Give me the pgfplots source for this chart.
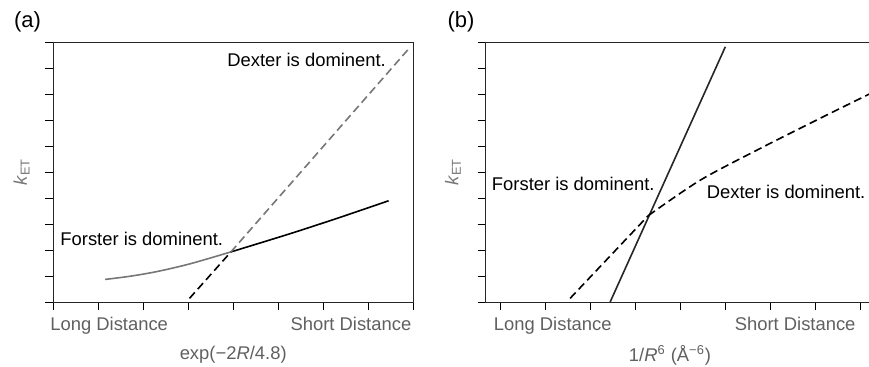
\documentclass[border=0pt]{standalone}
\usepackage{fontspec}
\setmainfont{Liberation Sans}
\usepackage{pgfplots}
\pgfplotsset{compat=1.18}
\definecolor{lgray}{HTML}{777777}
\definecolor{tgray}{HTML}{606060}
\begin{document}
\begin{tikzpicture}[font=\fontsize{9.2}{11}\selectfont]
\useasboundingbox (0,0) rectangle (434.5pt,183pt);
\clip (0,0) rectangle (434.5pt,183pt);
\pgfplotsset{myax/.style={scale only axis, height=129.8pt, anchor=south west,
  ymin=0, ymax=10, ytick={0,...,10}, yticklabels={}, xticklabels={},
  tick pos=left, tick align=outside, major tick length=4pt,
  axis line style={black!85, line width=0.5pt},
  every tick/.style={black, line width=0.5pt}, clip=false,
  every node/.append style={font=\fontsize{9.2}{11}\selectfont}}}
% ---------- (a) ----------
\begin{axis}[myax, at={(26.5pt,32pt)}, width=180.2pt, xmin=0, xmax=8, xtick={0,...,8}]
\addplot[lgray, line width=0.8pt, smooth] coordinates {(1.155,0.87) (1.7,0.99) (2.3,1.17) (3.04,1.47) (3.95,1.93)};
\addplot[black, line width=0.8pt, smooth] coordinates {(3.95,1.93) (5.26,2.63) (6.37,3.26) (7.45,3.90)};
\addplot[black, line width=0.8pt, dash pattern=on 4pt off 2.2pt] coordinates {(3.03,0.14) (3.95,1.93)};
\addplot[lgray, line width=0.8pt, dash pattern=on 4pt off 2.2pt] coordinates {(3.95,1.93) (7.93,9.82)};
\node[anchor=base] at (axis cs:5.63,9.09) {Dexter is dominent.};
\node[anchor=base] at (axis cs:1.97,2.17) {Forster is dominent.};
\node[anchor=base west, text=tgray] at (axis cs:-0.215,-1.10) {Long Distance};
\node[anchor=base east, text=tgray] at (axis cs:8.11,-1.10) {Short Distance};
\node[anchor=base, text=tgray] at (axis cs:4.0,-2.23) {exp(−2\textit{R}/4.8)};
\end{axis}
% ---------- (b) ----------
\begin{axis}[myax, at={(242.85pt,32pt)}, width=196.3pt, xmin=-0.326, xmax=8.4, xtick={0,...,8}]
\addplot[black!85, line width=0.8pt] coordinates {(2.44,0) (5.0,9.83)};
\addplot[black, line width=0.8pt, dash pattern=on 4pt off 2.2pt] coordinates {(1.55,0.14) (3.29,3.33)};
\addplot[black, line width=0.8pt, smooth, dash pattern=on 4pt off 2.2pt] coordinates {(3.29,3.33) (4.44,4.69) (5.77,5.91) (7.10,7.07) (8.07,7.90) (8.4,8.18)};
\node[anchor=base] at (axis cs:1.62,4.31) {Forster is dominent.};
\node[anchor=base west, inner sep=0pt] at (axis cs:4.58,4.0) {Dexter is dominent.};
\node[anchor=base west, text=tgray] at (axis cs:-0.30,-1.10) {Long Distance};
\node[anchor=base east, text=tgray] at (axis cs:8.05,-1.10) {Short Distance};
\node[anchor=base, text=tgray] at (axis cs:3.77,-2.3) {1/\textit{R}\textsuperscript{6} (Å\textsuperscript{−6})};
\end{axis}
\node[rotate=90, text=lgray] at (10.8pt,97pt) {\textit{k}\textsubscript{ET}};
\node[rotate=90, text=lgray] at (226.5pt,97pt) {\textit{k}\textsubscript{ET}};
\node[anchor=west, font=\fontsize{11}{13}\selectfont] at (3.5pt,172pt) {(a)};
\node[anchor=west, font=\fontsize{11}{13}\selectfont] at (220.3pt,172pt) {(b)};
\end{tikzpicture}
\end{document}
